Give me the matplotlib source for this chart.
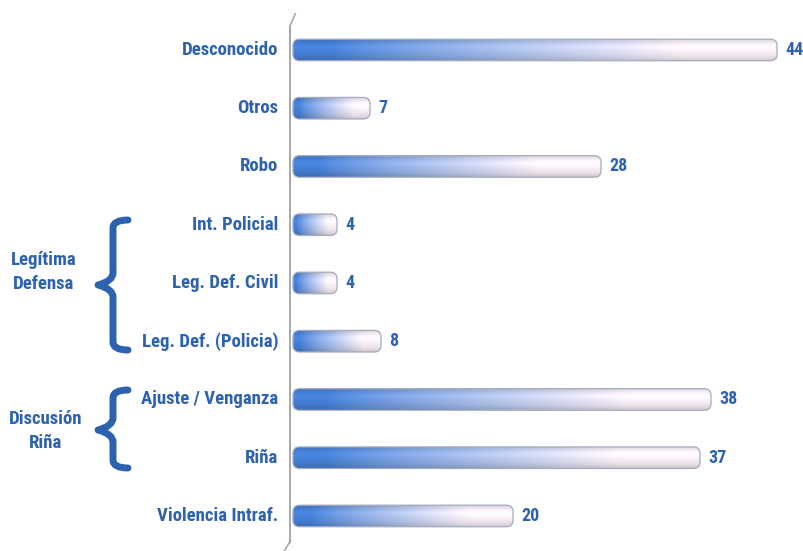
import matplotlib
matplotlib.use("Agg")
import matplotlib.pyplot as plt
import numpy as np
from matplotlib import font_manager as fm
from matplotlib.patches import FancyBboxPatch
from matplotlib.path import Path
from matplotlib.patches import PathPatch

categories = ["Desconocido", "Otros", "Robo", "Int. Policial", "Leg. Def. Civil",
              "Leg. Def. (Policia)", "Ajuste / Venganza", "Riña", "Violencia Intraf."]
values = [44, 7, 28, 4, 4, 8, 38, 37, 20]
group_labels = ["Legítima\nDefensa", "Discusión\nRiña"]

BLUE = "#2d62b0"

# pick a narrow font if there is one
names = {f.name for f in fm.fontManager.ttflist}
font_kw = dict(family="DejaVu Sans", fontstretch="condensed")
for cand in ["Roboto Condensed", "Liberation Sans Narrow", "Open Sans Condensed"]:
    if cand in names:
        font_kw = dict(family=cand)
        break

W, H = 804, 551
fig = plt.figure(figsize=(W / 100, H / 100), dpi=100)
fig.patch.set_facecolor("white")

# axes placed in pixels: 11 px per unit in x, ~58 px per category in y
px_x = 11.0
x0, x1 = -0.3, 46
left = 293 + x0 * px_x
ax = fig.add_axes([left / W, (H - 548) / H, (x1 - x0) * px_x / W, 533 / H])
ax.set_xlim(x0, x1)
ax.set_ylim(8.55, -0.6)
ax.axis("off")

bar_h = 0.37
ypos = np.arange(len(categories))

# gradient image: blue on the left fading to a pale pink, with round shading
nx, ny = 200, 40
t = np.linspace(0, 1, nx)
blue = np.array([0.27, 0.50, 0.84])
pale = np.array([0.98, 0.94, 0.97])
mix = np.clip((t - 0.08) / 0.72, 0, 1) ** 0.85
row = blue[None, :] * (1 - mix[:, None]) + pale[None, :] * mix[:, None]
v = np.linspace(-1, 1, ny)
shade = 1.0 - 0.14 * np.abs(v + 0.1) ** 2.2
shade += 0.06 * np.exp(-((v + 0.3) / 0.3) ** 2)
img = np.clip(row[None, :, :] * shade[:, None, None], 0, 1)

aspect = (1 / 58.25) / (1 / px_x)
for i, (y, val) in enumerate(zip(ypos, values)):
    box = FancyBboxPatch((0, y - bar_h / 2), val, bar_h,
                         boxstyle="round,pad=0,rounding_size=0.6",
                         mutation_aspect=aspect,
                         facecolor="none", edgecolor="#a3abbe", linewidth=0.9, zorder=3)
    ax.add_patch(box)
    im = ax.imshow(img, extent=(0, val, y + bar_h / 2, y - bar_h / 2),
                   aspect="auto", zorder=2, interpolation="bilinear")
    im.set_clip_path(box)
    ax.text(val + 0.75, y, str(val), ha="left", va="center", color=BLUE,
            fontsize=13, fontweight="bold", clip_on=False, **font_kw)
    ax.text(-1.35, y, categories[i], ha="right", va="center",
            color=BLUE, fontsize=13.5, fontweight="bold", clip_on=False, **font_kw)

ax.set_ylim(8.55, -0.6)
ax.set_xlim(x0, x1)

# axis line with small tails
ax.plot([x0, x0], [-0.4, 8.45], color="#a0a0a0", lw=1.3, clip_on=False)
ax.plot([x0, x0 + 0.5], [-0.4, -0.62], color="#a0a0a0", lw=1.1, clip_on=False)
ax.plot([x0, x0 - 0.5], [8.45, 8.6], color="#a0a0a0", lw=1.1, clip_on=False)


def brace(xl, xr, ytop, ybot, ymid):
    # curly brace opening to the right, coordinates in figure pixels (top origin)
    xm = (xl + xr) / 2
    pts = [(xr, ytop), (xm, ytop), (xm, ytop + 8), (xm, ytop + 18),
           (xm, ymid - 12), (xm, ymid - 4), (xl, ymid),
           (xm, ymid + 4), (xm, ymid + 12),
           (xm, ybot - 18), (xm, ybot - 8), (xm, ybot), (xr, ybot)]
    codes = [Path.MOVETO, Path.CURVE3, Path.CURVE3, Path.LINETO,
             Path.LINETO, Path.CURVE3, Path.CURVE3,
             Path.CURVE3, Path.CURVE3,
             Path.LINETO, Path.LINETO, Path.CURVE3, Path.CURVE3]
    verts = [(x / W, 1 - y / H) for x, y in pts]
    fig.add_artist(PathPatch(Path(verts, codes), transform=fig.transFigure,
                             facecolor="none", edgecolor=BLUE, lw=5,
                             capstyle="round", joinstyle="round"))


brace(98, 128, 220, 350, 285)
brace(98, 128, 390, 468, 430)

fig.text(44 / W, 1 - 272 / H, group_labels[0], ha="center", va="center", color=BLUE,
         fontsize=13.5, fontweight="bold", linespacing=1.45, **font_kw)
fig.text(46 / W, 1 - 431 / H, group_labels[1], ha="center", va="center", color=BLUE,
         fontsize=13.5, fontweight="bold", linespacing=1.45, **font_kw)

fig.savefig("out.png", dpi=100, facecolor="white")
